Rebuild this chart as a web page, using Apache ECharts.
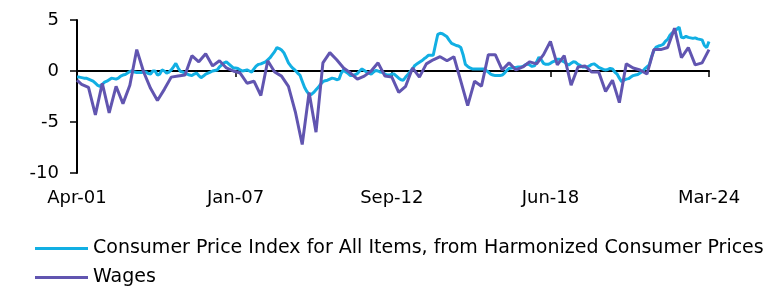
<!DOCTYPE html>
<html>
<head>
<meta charset="utf-8">
<script src="https://cdn.jsdelivr.net/npm/echarts@6/dist/echarts.min.js"></script>
<style>
html,body{margin:0;padding:0;background:#fff;}
#chart{width:763px;height:286px;}
</style>
</head>
<body>
<div id="chart"></div>
<script>
// ---- data ----
var startYear = 2001, startMonth = 3; // April 2001 (0-based month)
var monthCount = 276;                 // Apr-01 .. Mar-24
var tickLabels = ["Apr-01", "Jan-07", "Sep-12", "Jun-18", "Mar-24"];
var seriesNames = ["Consumer Price Index for All Items, from Harmonized Consumer Prices", "Wages"];

// CPI, monthly (Apr-01 .. Mar-24)
var cpiValues = [
 -0.6,-0.6,-0.65,-0.7,-0.7,-0.8,-0.9,-1.0,-1.2,-1.4,-1.5,-1.3,-1.1,-1.0,-0.85,-0.7,-0.75,-0.8,-0.7,-0.5,
 -0.4,-0.35,-0.2,-0.05,0.0,-0.1,-0.15,-0.15,-0.15,-0.1,-0.1,-0.25,-0.3,0.0,0.0,-0.4,-0.3,0.1,0.0,-0.2,
 -0.1,0.1,0.4,0.75,0.3,-0.05,-0.1,-0.2,-0.3,-0.4,-0.45,-0.3,-0.2,-0.45,-0.65,-0.5,-0.3,-0.2,-0.1,0.0,
 0.05,0.1,0.4,0.6,0.8,0.9,0.7,0.5,0.3,0.3,0.25,0.1,0.0,0.05,0.1,0.0,-0.1,0.2,0.5,0.65,
 0.7,0.8,0.9,1.1,1.3,1.6,1.9,2.3,2.2,2.05,1.8,1.3,0.8,0.5,0.25,0.05,-0.2,-0.4,-1.0,-1.6,
 -2.0,-2.3,-2.3,-2.1,-1.85,-1.6,-1.3,-1.05,-0.95,-0.9,-0.8,-0.7,-0.75,-0.85,-0.8,-0.2,0.1,-0.1,-0.25,-0.45,
 -0.45,-0.35,-0.25,0.0,0.2,0.05,-0.1,-0.2,-0.3,-0.1,0.05,0.0,-0.1,-0.15,-0.3,-0.4,-0.4,-0.3,-0.3,-0.5,
 -0.7,-0.85,-0.9,-0.6,-0.35,-0.05,0.2,0.55,0.7,0.85,1.0,1.2,1.35,1.55,1.55,1.55,2.6,3.6,3.7,3.65,
 3.5,3.35,3.0,2.7,2.6,2.5,2.45,2.3,1.6,0.65,0.45,0.3,0.2,0.2,0.2,0.2,0.2,0.2,0.05,-0.1,
 -0.3,-0.4,-0.45,-0.45,-0.45,-0.4,-0.2,0.05,0.25,0.3,0.35,0.35,0.4,0.4,0.45,0.6,0.7,0.6,0.45,0.5,
 0.9,1.35,1.1,0.75,0.65,0.65,0.75,0.9,1.0,1.15,1.15,1.0,0.9,0.7,0.6,0.75,0.9,0.85,0.65,0.55,
 0.4,0.4,0.4,0.5,0.65,0.7,0.55,0.35,0.25,0.15,0.1,0.15,0.25,0.2,-0.1,-0.3,-0.7,-1.05,-0.9,-0.8,
 -0.75,-0.6,-0.45,-0.4,-0.35,-0.2,-0.05,0.2,0.4,0.6,1.4,2.0,2.35,2.45,2.5,2.6,2.9,3.1,3.5,3.75,
 3.85,4.1,4.3,3.3,3.25,3.4,3.3,3.25,3.2,3.25,3.15,3.1,3.05,2.5,2.3,2.9
];

// Wages: first reading (Apr-01), then quarterly readings (Jun-01 .. Mar-24)
var wagesFirst = -0.9;
var wagesQuarterly = [
 -1.3,-1.6,-4.3,-1.2,-4.1,-1.5,-3.2,-1.4,2.1,-0.1,
 -1.7,-2.9,-1.8,-0.6,-0.5,-0.4,1.5,0.9,1.7,0.5,
 1.0,0.3,0.0,-0.2,-1.2,-1.0,-2.4,1.0,-0.1,-0.5,
 -1.5,-4.0,-7.2,-2.1,-6.0,0.8,1.8,1.1,0.3,-0.2,
 -0.8,-0.5,0.0,0.8,-0.5,-0.6,-2.1,-1.5,0.3,-0.6,
 0.7,1.1,1.4,1.0,1.4,-1.0,-3.4,-1.0,-1.5,1.6,
 1.6,0.1,0.8,0.1,0.4,0.9,0.7,1.6,2.9,0.6,
 1.5,-1.4,0.4,0.5,-0.1,-0.1,-2.0,-0.9,-3.1,0.7,
 0.3,0.1,-0.3,2.1,2.1,2.3,4.2,1.3,2.3,0.6,
 0.8,2.1
];

// ---- build ----
var monNames = ["Jan","Feb","Mar","Apr","May","Jun","Jul","Aug","Sep","Oct","Nov","Dec"];
var categories = [];
for (var i = 0; i < monthCount; i++) {
  var t = startMonth + i;
  var y = startYear + Math.floor(t / 12);
  categories.push(monNames[t % 12] + "-" + String(y % 100).padStart(2, "0"));
}
var wagesSeries = new Array(monthCount).fill(null);
wagesSeries[0] = wagesFirst;
wagesQuarterly.forEach(function (v, q) { wagesSeries[3 * q + 2] = v; });

function isTick(idx) { return tickLabels.indexOf(categories[idx]) >= 0; }

var FONT = "DejaVu Sans";
function legendFor(name, top) {
  return {
    orient: "horizontal",
    left: 35,
    top: top,
    padding: 0,
    icon: "rect",
    itemWidth: 53,
    itemHeight: 3,
    textStyle: { fontFamily: FONT, fontSize: 19, color: "#000", lineHeight: 16 },
    data: [name]
  };
}

var chart = echarts.init(document.getElementById("chart"), null, { renderer: "canvas" });
chart.setOption({
  animation: false,
  backgroundColor: "#ffffff",
  grid: { left: 77, right: 54, top: 20, bottom: 113, containLabel: false },
  legend: [legendFor(seriesNames[0], 239), legendFor(seriesNames[1], 268)],
  xAxis: [
    {
      type: "category",
      data: categories,
      boundaryGap: false,
      position: "bottom",
      axisLine: { show: false, onZero: false },
      axisTick: { show: false },
      splitLine: { show: false },
      axisLabel: {
        interval: function (idx) { return isTick(idx); },
        margin: 16,
        fontFamily: FONT, fontSize: 18, color: "#000"
      }
    },
    {
      type: "category",
      data: categories,
      boundaryGap: false,
      position: "bottom",
      axisLine: { show: true, onZero: true, lineStyle: { color: "#000", width: 2 } },
      axisTick: { show: true, length: 6, interval: function (idx) { return isTick(idx); }, lineStyle: { color: "#000", width: 1.5 } },
      axisLabel: { show: false },
      splitLine: { show: false }
    }
  ],
  yAxis: {
    type: "value",
    min: -10, max: 5, interval: 5,
    axisLine: { show: true, lineStyle: { color: "#000", width: 2 } },
    axisTick: { show: true, length: 7, lineStyle: { color: "#000", width: 1.5 } },
    splitLine: { show: false },
    axisLabel: { margin: 18, fontFamily: FONT, fontSize: 18, color: "#000" }
  },
  series: [
    {
      name: seriesNames[0],
      type: "line",
      xAxisIndex: 0,
      data: cpiValues,
      symbol: "none",
      lineStyle: { color: "#12AFE3", width: 3 },
      itemStyle: { color: "#12AFE3" }
    },
    {
      name: seriesNames[1],
      type: "line",
      xAxisIndex: 0,
      data: wagesSeries,
      connectNulls: true,
      symbol: "none",
      lineStyle: { color: "#6155B0", width: 3 },
      itemStyle: { color: "#6155B0" }
    }
  ]
});
</script>
</body>
</html>
